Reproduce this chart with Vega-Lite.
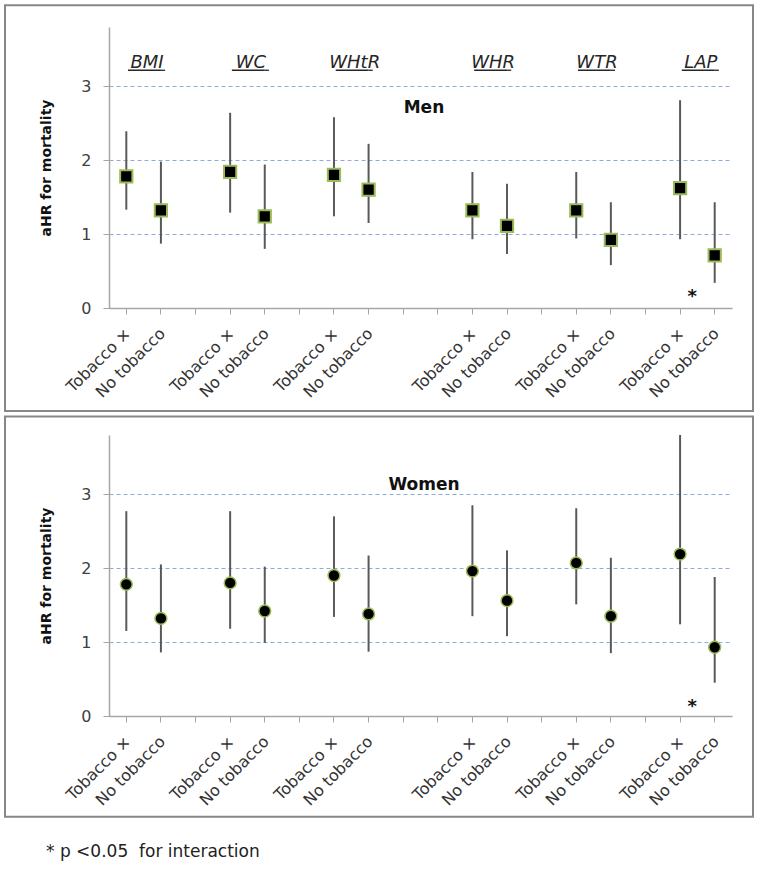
{
  "$schema": "https://vega.github.io/schema/vega-lite/v6.json",
  "padding": {"left": 3, "top": 4, "right": 4, "bottom": 4},
  "spacing": 2,
  "title": {"text": "* p <0.05\u00a0 for interaction", "orient": "bottom", "anchor": "start", "dx": 42, "offset": 26, "font": "DejaVu Sans", "fontSize": 17, "fontWeight": "normal", "color": "#222222", "baseline": "top"},
  "datasets": {
    "est": [
      {"panel": "Men", "slot": "BMI-T", "hr": 1.78, "lo": 1.33, "hi": 2.39},
      {"panel": "Men", "slot": "BMI-N", "hr": 1.32, "lo": 0.87, "hi": 1.98},
      {"panel": "Men", "slot": "WC-T", "hr": 1.84, "lo": 1.29, "hi": 2.64},
      {"panel": "Men", "slot": "WC-N", "hr": 1.24, "lo": 0.80, "hi": 1.94},
      {"panel": "Men", "slot": "WHtR-T", "hr": 1.80, "lo": 1.24, "hi": 2.58},
      {"panel": "Men", "slot": "WHtR-N", "hr": 1.60, "lo": 1.15, "hi": 2.22},
      {"panel": "Men", "slot": "WHR-T", "hr": 1.32, "lo": 0.93, "hi": 1.84},
      {"panel": "Men", "slot": "WHR-N", "hr": 1.11, "lo": 0.73, "hi": 1.68},
      {"panel": "Men", "slot": "WTR-T", "hr": 1.32, "lo": 0.94, "hi": 1.84},
      {"panel": "Men", "slot": "WTR-N", "hr": 0.92, "lo": 0.58, "hi": 1.43},
      {"panel": "Men", "slot": "LAP-T", "hr": 1.62, "lo": 0.93, "hi": 2.81},
      {"panel": "Men", "slot": "LAP-N", "hr": 0.71, "lo": 0.34, "hi": 1.43},
      {"panel": "Women", "slot": "BMI-T", "hr": 1.78, "lo": 1.15, "hi": 2.77},
      {"panel": "Women", "slot": "BMI-N", "hr": 1.32, "lo": 0.86, "hi": 2.05},
      {"panel": "Women", "slot": "WC-T", "hr": 1.80, "lo": 1.18, "hi": 2.77},
      {"panel": "Women", "slot": "WC-N", "hr": 1.42, "lo": 0.99, "hi": 2.02},
      {"panel": "Women", "slot": "WHtR-T", "hr": 1.90, "lo": 1.34, "hi": 2.70},
      {"panel": "Women", "slot": "WHtR-N", "hr": 1.38, "lo": 0.87, "hi": 2.17},
      {"panel": "Women", "slot": "WHR-T", "hr": 1.96, "lo": 1.35, "hi": 2.85},
      {"panel": "Women", "slot": "WHR-N", "hr": 1.56, "lo": 1.08, "hi": 2.24},
      {"panel": "Women", "slot": "WTR-T", "hr": 2.07, "lo": 1.51, "hi": 2.81},
      {"panel": "Women", "slot": "WTR-N", "hr": 1.35, "lo": 0.85, "hi": 2.14},
      {"panel": "Women", "slot": "LAP-T", "hr": 2.19, "lo": 1.24, "hi": 3.80},
      {"panel": "Women", "slot": "LAP-N", "hr": 0.93, "lo": 0.45, "hi": 1.88}
    ],
    "groups": [
      {"grp": "BMI", "slot": "BMI-N", "t": "BMI-T", "n": "BMI-N"},
      {"grp": "WC", "slot": "WC-N", "t": "WC-T", "n": "WC-N"},
      {"grp": "WHtR", "slot": "WHtR-N", "t": "WHtR-T", "n": "WHtR-N"},
      {"grp": "WHR", "slot": "WHR-N", "t": "WHR-T", "n": "WHR-N"},
      {"grp": "WTR", "slot": "WTR-N", "t": "WTR-T", "n": "WTR-N"},
      {"grp": "LAP", "slot": "LAP-N", "t": "LAP-T", "n": "LAP-N"}
    ],
    "notes": [
      {"panel": "Men", "kind": "title", "slot": "gap4", "y": 2.633, "label": "Men"},
      {"panel": "Men", "kind": "star", "slot": "LAP-T", "y": 0.2, "label": "*"},
      {"panel": "Women", "kind": "title", "slot": "gap4", "y": 3.056, "label": "Women"},
      {"panel": "Women", "kind": "star", "slot": "LAP-T", "y": 0.17, "label": "*"}
    ]
  },
  "vconcat": [
    {
      "width": 623,
      "height": 281,
      "resolve": {"scale": {"x": "independent"}, "axis": {"x": "independent"}},
      "layer": [
        {
          "data": {"values": [{}]},
          "mark": {"type": "rect", "fill": "transparent", "stroke": "#878787", "strokeWidth": 2},
          "encoding": {
            "x": {"datum": 0, "type": "quantitative", "scale": {"domain": [0.13904, 0.97193], "nice": false, "zero": false}, "axis": null},
            "x2": {"datum": 1},
            "y": {"datum": 4.093, "type": "quantitative", "scale": {"domain": [0, 3.8], "nice": false, "zero": false}},
            "y2": {"datum": -1.393}
          }
        },
        {
          "layer": [
            {
              "data": {"name": "est"},
              "transform": [{"filter": "datum.panel === 'Men'"}],
              "mark": {"type": "rule", "color": "#595959", "strokeWidth": 2},
              "encoding": {
                "x": {
                  "field": "slot", "type": "nominal",
                  "scale": {"domain": ["BMI-T", "BMI-N", "gap1", "WC-T", "WC-N", "gap2", "WHtR-T", "WHtR-N", "gap3", "gap4", "WHR-T", "WHR-N", "gap5", "WTR-T", "WTR-N", "gap6", "LAP-T", "LAP-N"], "paddingInner": 0, "paddingOuter": 0},
                  "axis": {"title": null, "orient": "bottom", "tickSize": 6, "tickColor": "#A6A6A6", "domainColor": "#A6A6A6", "domainWidth": 1.5, "labelAngle": -45, "labelFont": "DejaVu Sans", "labelFontSize": 16, "labelColor": "#333333", "labelPadding": 11, "labelOffset": -4, "grid": false,
                    "labelExpr": "indexof(datum.value, '-T') >= 0 ? 'Tobacco ×' : (indexof(datum.value, '-N') >= 0 ? 'No tobacco' : '')"}
                },
                "y": {
                  "field": "lo", "type": "quantitative",
                  "scale": {"domain": [0, 3.8], "nice": false, "zero": false},
                  "axis": {"title": "aHR for mortality", "values": [0, 1, 2, 3], "format": "d", "grid": true, "gridColor": "#8FAADC", "gridDash": [4, 3], "gridWidth": 1, "domainColor": "#A6A6A6", "domainWidth": 1.5, "tickColor": "#A6A6A6", "tickSize": 6, "labelFont": "DejaVu Sans", "labelFontSize": 16, "labelColor": "#404040", "labelPadding": 12, "titleFont": "DejaVu Sans", "titleFontSize": 14, "titleFontWeight": "bold", "titleColor": "#111111", "titlePadding": 27}
                },
                "y2": {"field": "hi"}
              }
            },
            {
              "data": {"name": "est"},
              "transform": [{"filter": "datum.panel === 'Men'"}],
              "mark": {"type": "point", "shape": "square", "filled": true, "color": "black", "stroke": "#9BBB59", "strokeWidth": 2, "size": 150, "opacity": 1},
              "encoding": {
                "x": {"field": "slot", "type": "nominal"},
                "y": {"field": "hr", "type": "quantitative"}
              }
            },
            {
              "data": {"name": "groups"},
              "mark": {"type": "text", "font": "DejaVu Sans", "fontStyle": "italic", "fontSize": 18, "color": "#262626", "baseline": "alphabetic", "align": "center"},
              "encoding": {
                "x": {"field": "slot", "type": "nominal", "bandPosition": 0.1},
                "y": {"datum": 3.248, "type": "quantitative"},
                "text": {"field": "grp"}
              }
            },
            {
              "data": {"name": "groups"},
              "mark": {"type": "rule", "color": "#262626", "strokeWidth": 1.3},
              "encoding": {
                "x": {"field": "t", "type": "nominal", "bandPosition": 0.55},
                "x2": {"field": "n"},
                "y": {"datum": 3.215, "type": "quantitative"}
              }
            },
            {
              "data": {"name": "groups"},
              "mark": {"type": "rule", "color": "#262626", "strokeWidth": 1.3},
              "encoding": {
                "x": {"field": "n", "type": "nominal", "bandPosition": 0.62},
                "x2": {"field": "n"},
                "y": {"datum": 3.215, "type": "quantitative"}
              }
            },
            {
              "data": {"name": "notes"},
              "transform": [{"filter": "datum.panel === 'Men' && datum.kind === 'title'"}],
              "mark": {"type": "text", "font": "DejaVu Sans", "fontWeight": "bold", "fontSize": 17, "color": "#111111", "baseline": "alphabetic", "align": "center"},
              "encoding": {
                "x": {"field": "slot", "type": "nominal", "bandPosition": 0.1},
                "y": {"field": "y", "type": "quantitative"},
                "text": {"field": "label"}
              }
            },
            {
              "data": {"name": "notes"},
              "transform": [{"filter": "datum.panel === 'Men' && datum.kind === 'star'"}],
              "mark": {"type": "text", "font": "DejaVu Sans", "fontWeight": "bold", "fontSize": 18, "color": "#111111", "baseline": "middle", "align": "center", "dy": 4},
              "encoding": {
                "x": {"field": "slot", "type": "nominal", "bandPosition": 0.85},
                "y": {"field": "y", "type": "quantitative"},
                "text": {"field": "label"}
              }
            }
          ]
        }
      ]
    },
    {
      "width": 623,
      "height": 281,
      "resolve": {"scale": {"x": "independent"}, "axis": {"x": "independent"}},
      "layer": [
        {
          "data": {"values": [{}]},
          "mark": {"type": "rect", "fill": "transparent", "stroke": "#878787", "strokeWidth": 2},
          "encoding": {
            "x": {"datum": 0, "type": "quantitative", "scale": {"domain": [0.13904, 0.97193], "nice": false, "zero": false}, "axis": null},
            "x2": {"datum": 1},
            "y": {"datum": 4.0515, "type": "quantitative", "scale": {"domain": [0, 3.8], "nice": false, "zero": false}},
            "y2": {"datum": -1.362}
          }
        },
        {
          "layer": [
            {
              "data": {"name": "est"},
              "transform": [{"filter": "datum.panel === 'Women'"}],
              "mark": {"type": "rule", "color": "#595959", "strokeWidth": 2},
              "encoding": {
                "x": {
                  "field": "slot", "type": "nominal",
                  "scale": {"domain": ["BMI-T", "BMI-N", "gap1", "WC-T", "WC-N", "gap2", "WHtR-T", "WHtR-N", "gap3", "gap4", "WHR-T", "WHR-N", "gap5", "WTR-T", "WTR-N", "gap6", "LAP-T", "LAP-N"], "paddingInner": 0, "paddingOuter": 0},
                  "axis": {"title": null, "orient": "bottom", "tickSize": 6, "tickColor": "#A6A6A6", "domainColor": "#A6A6A6", "domainWidth": 1.5, "labelAngle": -45, "labelFont": "DejaVu Sans", "labelFontSize": 16, "labelColor": "#333333", "labelPadding": 11, "labelOffset": -4, "grid": false,
                    "labelExpr": "indexof(datum.value, '-T') >= 0 ? 'Tobacco ×' : (indexof(datum.value, '-N') >= 0 ? 'No tobacco' : '')"}
                },
                "y": {
                  "field": "lo", "type": "quantitative",
                  "scale": {"domain": [0, 3.8], "nice": false, "zero": false},
                  "axis": {"title": "aHR for mortality", "values": [0, 1, 2, 3], "format": "d", "grid": true, "gridColor": "#8FAADC", "gridDash": [4, 3], "gridWidth": 1, "domainColor": "#A6A6A6", "domainWidth": 1.5, "tickColor": "#A6A6A6", "tickSize": 6, "labelFont": "DejaVu Sans", "labelFontSize": 16, "labelColor": "#404040", "labelPadding": 12, "titleFont": "DejaVu Sans", "titleFontSize": 14, "titleFontWeight": "bold", "titleColor": "#111111", "titlePadding": 27}
                },
                "y2": {"field": "hi"}
              }
            },
            {
              "data": {"name": "est"},
              "transform": [{"filter": "datum.panel === 'Women'"}],
              "mark": {"type": "point", "shape": "circle", "filled": true, "color": "black", "stroke": "#9BBB59", "strokeWidth": 1.5, "size": 140, "opacity": 1},
              "encoding": {
                "x": {"field": "slot", "type": "nominal"},
                "y": {"field": "hr", "type": "quantitative"}
              }
            },
            {
              "data": {"name": "notes"},
              "transform": [{"filter": "datum.panel === 'Women' && datum.kind === 'title'"}],
              "mark": {"type": "text", "font": "DejaVu Sans", "fontWeight": "bold", "fontSize": 17, "color": "#111111", "baseline": "alphabetic", "align": "center"},
              "encoding": {
                "x": {"field": "slot", "type": "nominal", "bandPosition": 0.1},
                "y": {"field": "y", "type": "quantitative"},
                "text": {"field": "label"}
              }
            },
            {
              "data": {"name": "notes"},
              "transform": [{"filter": "datum.panel === 'Women' && datum.kind === 'star'"}],
              "mark": {"type": "text", "font": "DejaVu Sans", "fontWeight": "bold", "fontSize": 18, "color": "#111111", "baseline": "middle", "align": "center", "dy": 4},
              "encoding": {
                "x": {"field": "slot", "type": "nominal", "bandPosition": 0.85},
                "y": {"field": "y", "type": "quantitative"},
                "text": {"field": "label"}
              }
            }
          ]
        }
      ]
    }
  ],
  "config": {"view": {"stroke": null}, "font": "DejaVu Sans"}
}
